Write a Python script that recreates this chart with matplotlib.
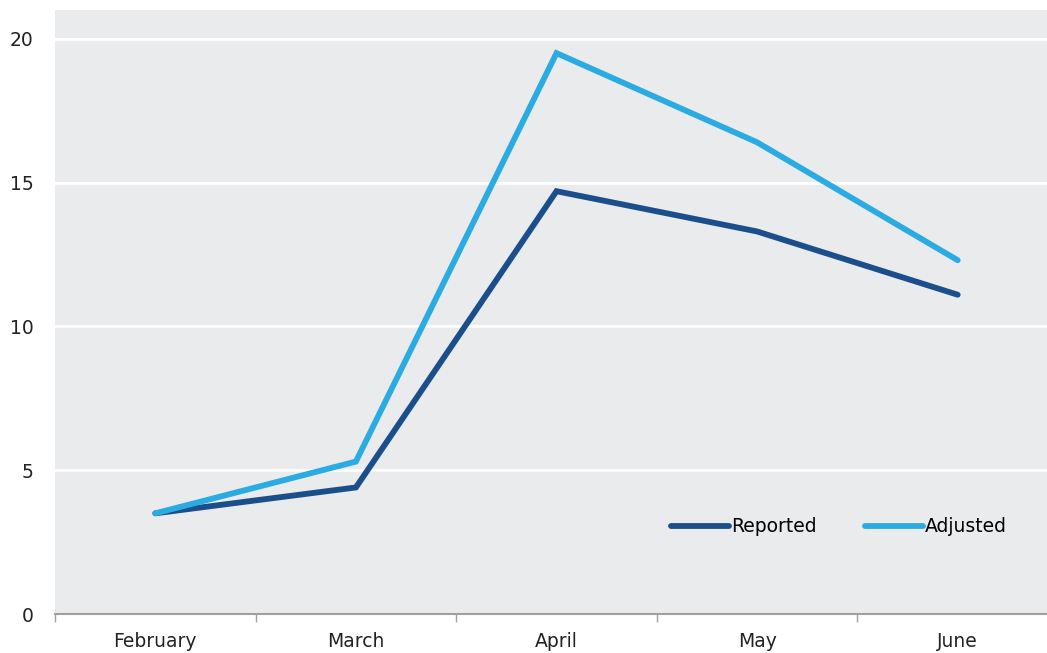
import matplotlib.pyplot as plt
import numpy as np

months = ['February', 'March', 'April', 'May', 'June']
reported = [3.5, 4.4, 14.7, 13.3, 11.1]
adjusted = [3.5, 5.3, 19.5, 16.4, 12.3]

plt.rcParams['font.family'] = ['DejaVu Sans']

fig = plt.figure(figsize=(10.47, 6.53), dpi=100)
ax = fig.add_axes([55 / 1047, 39 / 653, 1003 / 1047, 604 / 653])
ax.set_facecolor('#eaebed')

x = np.arange(len(months))
ax.plot(x, reported, color='#1b4f8c', lw=4.2, solid_capstyle='round',
        solid_joinstyle='miter', label='Reported', zorder=3)
ax.plot(x, adjusted, color='#2aabe2', lw=4.2, solid_capstyle='round',
        solid_joinstyle='miter', label='Adjusted', zorder=3)

ax.set_xlim(-0.5, 4.5)
ax.set_ylim(0, 21)
ax.set_yticks([0, 5, 10, 15, 20])
ax.yaxis.grid(True, color='white', lw=2)
ax.set_axisbelow(True)

ax.set_xticks(np.arange(-0.5, 5, 1))
ax.set_xticklabels([])
ax.set_xticks(x, minor=True)
ax.set_xticklabels(months, minor=True)
ax.tick_params(axis='x', which='major', length=6, width=1, color='#a0a0a0')
ax.tick_params(axis='x', which='minor', length=0, pad=13, labelsize=13.5,
               labelcolor='#222222')
ax.tick_params(axis='y', length=0, pad=15.5, labelsize=13.5, labelcolor='#222222')

for side in ['top', 'right', 'left']:
    ax.spines[side].set_visible(False)
ax.spines['bottom'].set_color('#a0a0a0')
ax.spines['bottom'].set_linewidth(1.5)

ax.legend(loc='center', bbox_to_anchor=((839 - 55) / 1003, (614 - 527) / 604),
          ncol=2, frameon=False, fontsize=13.5, handlelength=3.1,
          handletextpad=0.1, columnspacing=2.6)

fig.savefig('out.png', dpi=100)
